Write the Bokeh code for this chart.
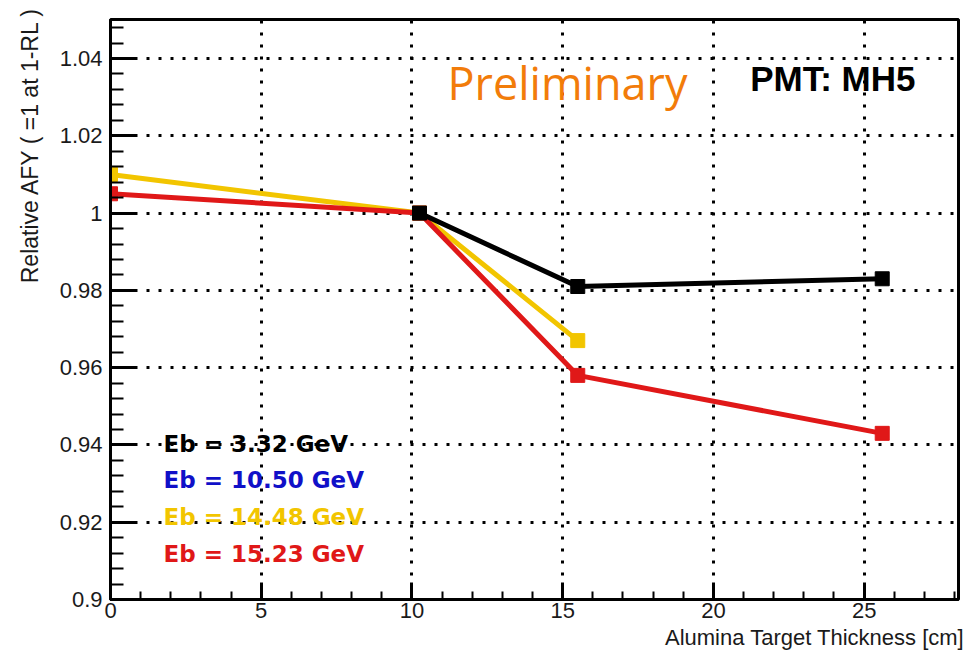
from bokeh.plotting import figure
from bokeh.models import Range1d, FixedTicker, NumeralTickFormatter, Label, Title
from bokeh.embed import file_html
from bokeh.resources import INLINE

# ---- data ----
black_x = [10.25, 15.5, 25.6]
black_y = [1.000, 0.981, 0.983]
yellow_x = [0.0, 10.25, 15.5]
yellow_y = [1.010, 1.000, 0.967]
red_x = [0.0, 10.25, 15.5, 25.6]
red_y = [1.005, 1.000, 0.958, 0.943]

legend_labels = ["Eb = 3.32 GeV", "Eb = 10.50 GeV", "Eb = 14.48 GeV", "Eb = 15.23 GeV"]
legend_colors = ["#000000", "#1010c8", "#f2c500", "#e01818"]

x_major = [0, 5, 10, 15, 20, 25]
x_minor = list(range(0, 29))
y_major = [0.90, 0.92, 0.94, 0.96, 0.98, 1.00, 1.02, 1.04]
y_minor = [round(0.9 + 0.004 * i, 3) for i in range(0, 38)]

YELLOW = "#f2c500"
RED = "#e01818"
BLACK = "#000000"

W, H = 964, 652
ML, MT = 110, 19
FR, FB = 958, 599          # frame right / bottom in canvas px
MR, MB = W - FR, H - FB


def sy(y_canvas):
    """canvas y (from top) -> frame-relative screen y (from bottom)"""
    return FB - y_canvas


def sx(x_canvas):
    return x_canvas - ML


p = figure(width=W, height=H, output_backend="svg", toolbar_location=None,
           x_range=Range1d(0, 28.13), y_range=Range1d(0.9, 1.0501),
           min_border_left=ML, min_border_right=MR, min_border_top=MT, min_border_bottom=MB)

p.background_fill_color = "white"
p.border_fill_color = "white"
p.outline_line_color = "black"
p.outline_line_width = 3

for ax in (p.xaxis[0], p.yaxis[0]):
    ax.axis_line_width = 3
    ax.major_tick_line_width = 3
    ax.minor_tick_line_width = 2
    ax.major_tick_out = 0
    ax.minor_tick_out = 0
    ax.major_label_text_font = "Liberation Sans"
    ax.major_label_text_font_size = "22px"
    ax.major_label_text_color = "#1a1a1a"

p.xaxis.ticker = FixedTicker(ticks=x_major, minor_ticks=x_minor)
p.xaxis.major_tick_in = 17
p.xaxis.minor_tick_in = 8
p.xaxis.major_label_standoff = 3

p.yaxis.ticker = FixedTicker(ticks=y_major, minor_ticks=y_minor)
p.yaxis.formatter = NumeralTickFormatter(format="0.[00]")
p.yaxis.major_tick_in = 25
p.yaxis.minor_tick_in = 13
p.yaxis.major_label_standoff = 8

for g in (p.xgrid[0], p.ygrid[0]):
    g.grid_line_color = "black"
    g.grid_line_width = 3
    g.grid_line_dash = "3 9"

# series
p.line(yellow_x, yellow_y, line_color=YELLOW, line_width=5)
p.scatter(yellow_x, yellow_y, marker="square", size=14, fill_color=YELLOW, line_color=YELLOW)
p.line(red_x, red_y, line_color=RED, line_width=5)
p.scatter(red_x, red_y, marker="square", size=14, fill_color=RED, line_color=RED)
p.line(black_x, black_y, line_color=BLACK, line_width=5)
p.scatter(black_x, black_y, marker="square", size=14, fill_color=BLACK, line_color=BLACK)

# legend texts
for i, (txt, col) in enumerate(zip(legend_labels, legend_colors)):
    cy = 443 + i * 36.7
    p.add_layout(Label(x=sx(163), y=sy(cy), x_units="screen", y_units="screen",
                       text=txt, text_color=col, text_font="DejaVu Sans", text_font_style="bold",
                       text_font_size="23px", text_align="left", text_baseline="middle"))

p.add_layout(Label(x=sx(447), y=sy(82), x_units="screen", y_units="screen",
                   text="Preliminary", text_color="#f27c0a", text_font="Open Sans",
                   text_font_size="45px", text_align="left", text_baseline="alphabetic"))
p.add_layout(Label(x=sx(915), y=sy(78), x_units="screen", y_units="screen",
                   text="PMT: MH5", text_color="black", text_font="Liberation Sans", text_font_style="bold",
                   text_font_size="35px", text_align="right", text_baseline="middle"))

# axis titles (right/top aligned like ROOT)
p.add_layout(Title(text="Relative AFY ( =1 at 1-RL )", align="right", offset=-13,
                   text_font="Liberation Sans", text_font_style="normal", text_font_size="23px",
                   text_color="#1a1a1a", standoff=28), "left")
p.add_layout(Title(text="Alumina Target Thickness [cm]", align="right", offset=-6,
                   text_font="Liberation Sans", text_font_style="normal", text_font_size="22px",
                   text_color="#1a1a1a", standoff=5), "below")

open("out.html", "w").write(file_html(p, INLINE))
